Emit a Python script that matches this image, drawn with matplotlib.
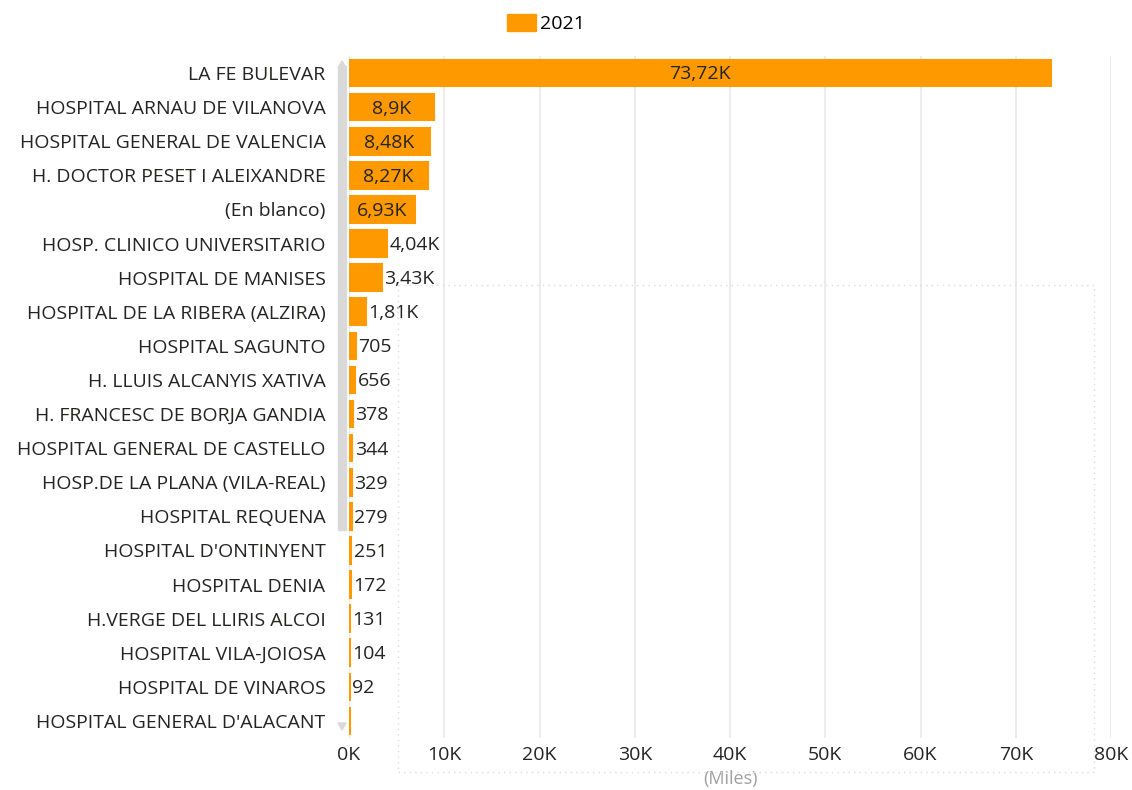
import matplotlib.pyplot as plt
from matplotlib.patches import Rectangle, Polygon

# datos
hospitales = [
    "LA FE BULEVAR", "HOSPITAL ARNAU DE VILANOVA", "HOSPITAL GENERAL DE VALENCIA",
    "H. DOCTOR PESET I ALEIXANDRE", "(En blanco)", "HOSP. CLINICO UNIVERSITARIO",
    "HOSPITAL DE MANISES", "HOSPITAL DE LA RIBERA (ALZIRA)", "HOSPITAL SAGUNTO",
    "H. LLUIS ALCANYIS XATIVA", "H. FRANCESC DE BORJA GANDIA", "HOSPITAL GENERAL DE CASTELLO",
    "HOSP.DE LA PLANA (VILA-REAL)", "HOSPITAL REQUENA", "HOSPITAL D'ONTINYENT",
    "HOSPITAL DENIA", "H.VERGE DEL LLIRIS ALCOI", "HOSPITAL VILA-JOIOSA",
    "HOSPITAL DE VINAROS", "HOSPITAL GENERAL D'ALACANT",
]
valores = [73720, 8900, 8480, 8270, 6930, 4040, 3430, 1810, 705, 656,
           378, 344, 329, 279, 251, 172, 131, 104, 92, 80]
etiquetas = ["73,72K", "8,9K", "8,48K", "8,27K", "6,93K", "4,04K", "3,43K", "1,81K",
             "705", "656", "378", "344", "329", "279", "251", "172", "131", "104", "92", ""]
ticks = [0, 10000, 20000, 30000, 40000, 50000, 60000, 70000, 80000]
tick_labels = ["0K", "10K", "20K", "30K", "40K", "50K", "60K", "70K", "80K"]

naranja = "#FF9900"
texto = "#252423"
plt.rcParams['font.family'] = ['Open Sans', 'DejaVu Sans']
fs = 14

fig = plt.figure(figsize=(11.32, 7.9), dpi=100)
ax = fig.add_axes([349 / 1132, 1 - 738 / 790, (1111 - 349) / 1132, (738 - 56) / 790])

pos = list(range(len(hospitales)))
# borde fino para que las barras pequeñas se vean (como en Power BI)
ax.barh(pos, valores, height=0.78, color=naranja, edgecolor=naranja, linewidth=1.5, zorder=3)
ax.set_ylim(len(hospitales) - 0.5, -0.5)
ax.set_xlim(0, 80000)

# etiquetas de datos
for i, (v, lab) in enumerate(zip(valores, etiquetas)):
    if i < 5:
        ax.text(v / 2, i + 0.04, lab, ha='center', va='center', fontsize=fs, color=texto, zorder=4)
    else:
        ax.text(v + 250, i + 0.04, lab, ha='left', va='center', fontsize=fs, color=texto, zorder=4)

ax.set_yticks(pos)
ax.set_yticklabels(hospitales, fontsize=fs, color=texto)
ax.set_xticks(ticks)
ax.set_xticklabels(tick_labels, fontsize=fs, color=texto)
ax.tick_params(axis='y', length=0, pad=17)
ax.tick_params(axis='x', length=0, pad=6)
ax.grid(axis='x', color='#EAEAEA', linewidth=1.3, zorder=0)
ax.set_axisbelow(True)
for s in ax.spines.values():
    s.set_visible(False)
ax.set_xlabel("(Miles)", fontsize=13, color='#A0A0A0', labelpad=4)

# leyenda
ax.legend([Rectangle((0, 0), 1, 1, color=naranja)], ["2021"], loc='upper center',
          bbox_to_anchor=(546 / 1132, 1 + 3 / 790), bbox_transform=fig.transFigure,
          frameon=False, fontsize=fs, handlelength=1.5, handleheight=0.9, handletextpad=0.2)

# barra de desplazamiento
fig.patches.append(Rectangle((338 / 1132, 1 - 530 / 790), 8 / 1132, (530 - 66) / 790,
                             transform=fig.transFigure, color='#D9D9D9'))
fig.patches.append(Polygon([(338 / 1132, 1 - 68 / 790), (346 / 1132, 1 - 68 / 790), (342 / 1132, 1 - 61 / 790)],
                           transform=fig.transFigure, color='#D9D9D9'))
fig.patches.append(Polygon([(338 / 1132, 1 - 723 / 790), (346 / 1132, 1 - 723 / 790), (342 / 1132, 1 - 730 / 790)],
                           transform=fig.transFigure, color='#D9D9D9'))

# marco punteado
fig.patches.append(Rectangle((398 / 1132, 1 - 772 / 790), (1094 - 398) / 1132, (772 - 285) / 790,
                             transform=fig.transFigure, fill=False, edgecolor='#DCDCDC',
                             linestyle=(0, (1, 3)), linewidth=1))

plt.savefig('out.png', dpi=100)
